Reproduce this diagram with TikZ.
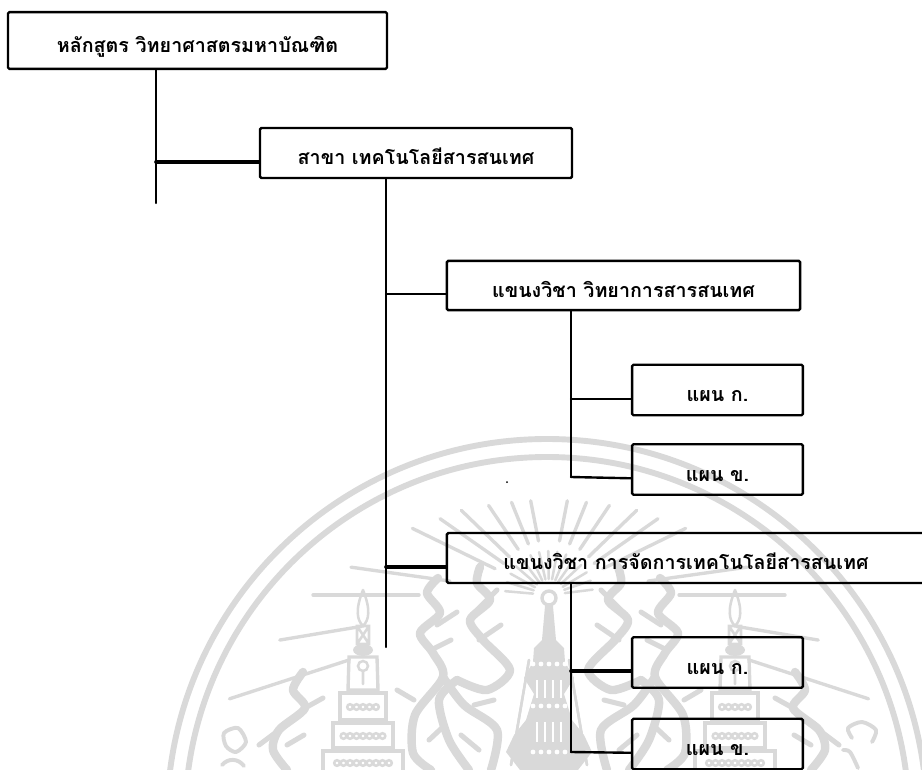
\documentclass[tikz,border=0pt]{standalone}
\usepackage{fontspec}
\newfontfamily\thaifont[Script=Thai]{Loma}
\usetikzlibrary{positioning}
\definecolor{sealgray}{gray}{0.85}
\tikzset{
  boxbase/.style={draw, line width=1.7pt, rounded corners=1pt, inner sep=0pt, font=\thaifont\bfseries\fontsize{14pt}{16pt}\selectfont, text height=20pt, text depth=3.2pt},
  degreebox/.style={boxbase, minimum width=9.47cm, minimum height=1.42cm},
  majorbox/.style={boxbase, minimum width=7.8cm, minimum height=1.25cm},
  trackbox/.style={boxbase, minimum width=8.83cm, minimum height=1.23cm},
  widebox/.style={boxbase, minimum width=11.95cm, minimum height=1.25cm},
  planbox/.style={boxbase, minimum width=4.27cm, minimum height=1.26cm},
  conn/.style={line width=1.7pt, line cap=round},
  thickconn/.style={line width=2.6pt},
  sealring/.style={draw=sealgray, line width=4.2pt},
  sealray/.style={draw=sealgray, line width=2.4pt, line cap=round},
  sealstroke/.style={draw=sealgray, line width=6pt, line cap=round, line join=round},
  sealleaf/.style={draw=sealgray, line width=3.6pt, line cap=round, line join=round},
  sealthin/.style={draw=sealgray, line width=1.8pt, line cap=round}
}
\begin{document}
\begin{tikzpicture}[x=0.025cm, y=-0.025cm]
    \useasboundingbox (0,0) rectangle (922,770);
    \begin{scope}
        \clip (0,0) rectangle (922,770);
        % Sello de fondo
        \draw[sealring] (547,819) circle (380);
        \draw[sealring] (547,819) circle (362);
        % Rayos
        \begin{scope}[shift={(549,595)}]
            \foreach \ang/\rin/\rout in {162/210/336, 170.5/190/273, 180/130/236, 188/100/200, 206/60/152, 215/55/133, 224/55/122, 236/55/108, 248/55/100, 259/55/96, 281/55/96, 292/55/100, 304/55/108, 316/55/122, 325/55/133, 334/60/152, 352/100/200, 0/130/236, 9.5/190/273, 18/210/336}
                \draw[sealray] (\ang:\rin) -- (\ang:\rout);
            \foreach \ang in {185,197,...,360}
                \draw[sealthin] (\ang:16) -- (\ang:44);
        \end{scope}
        % Pagoda central
        \draw[sealthin, line width=2.4pt] (549,598) circle (7);
        \fill[sealgray] (545,606) -- (553,606) -- (556,640) -- (564,648) -- (565,662) -- (574,678) -- (564,694) -- (572,720) -- (584,735) -- (592,752) -- (578,770) -- (520,770) -- (506,752) -- (514,735) -- (526,720) -- (534,694) -- (524,678) -- (533,662) -- (534,648) -- (542,640) -- cycle;
        \foreach \ty in {664,706,752}
            \foreach \tx in {-16,-8,...,16}
                \fill[white] (549+\tx,\ty) circle (2.4);
        \foreach \tx in {-12,-4,4,12}
            \draw[white, line width=1.2pt] (549+\tx,680) -- (549+\tx,698) (549+\tx,722) -- (549+\tx,742);
        % Torres laterales
        \foreach \cx in {363,735}{
            \begin{scope}[shift={(\cx,0)}]
                \draw[sealthin] (0,590) .. controls (8,610) and (6,620) .. (0,626) .. controls (-6,620) and (-8,610) .. (0,590);
                \draw[sealthin] (-6,626) rectangle (6,644) (-6,626) -- (6,644) (6,626) -- (-6,644);
                \fill[sealgray] (0,650) ellipse (10 and 6);
                \draw[sealthin, line width=2.4pt] (-14,657) -- (14,657) -- (15,690) -- (-15,690) -- cycle;
                \draw[sealthin] (0,666) circle (5) (0,672) -- (0,684);
                \draw[sealthin, line width=2.4pt] (-23,693) rectangle (23,720);
                \draw[sealthin, line width=2.4pt] (-30,723) rectangle (30,748);
                \draw[sealthin, line width=2.4pt] (-40,751) rectangle (40,775);
                \foreach \ty/\n in {707/2,736/3,763/4}
                    \foreach \tk in {-\n,...,\n}
                        \draw[sealthin] (\tk*6.5,\ty) circle (2.8);
            \end{scope}
        }
        % Llamas a los dos lados
        \foreach \side in {1,-1}{
            \begin{scope}[shift={(549,0)}, xscale=\side]
                \draw[sealstroke] plot[smooth] coordinates {(-111,578) (-122,593) (-109,613) (-129,633) (-116,653) (-106,677) (-134,715) (-136,753) (-118,770)};
                \draw[sealstroke] plot[smooth] coordinates {(-69,567) (-72,583) (-59,600) (-79,620) (-66,640) (-39,670) (-62,690) (-92,680)};
                \draw[sealstroke] plot[smooth] coordinates {(-106,677) (-85,705) (-52,730) (-58,770)};
                \draw[sealstroke] plot[smooth] coordinates {(-92,680) (-110,700) (-100,740) (-80,770)};
                \draw[sealstroke] plot[smooth] coordinates {(-246,672) (-256,690) (-244,708) (-270,730) (-276,750) (-262,770)};
                \draw[sealleaf] (-112,625) -- (-92,612) (-118,650) -- (-98,640) (-72,610) -- (-52,590) (-70,640) -- (-48,625);
                \draw[sealleaf] (-135,700) -- (-152,690) (-120,740) -- (-104,725) (-75,705) -- (-55,700) (-70,750) -- (-88,735);
                \draw[sealleaf] (-244,708) -- (-226,698) (-270,730) -- (-290,745) (-262,745) -- (-245,735);
                \draw[sealthin] (-20,660) -- (-38,765) (20,660) -- (38,765);
            \end{scope}
        }
        % Letras del borde
        \draw[sealleaf, line width=2.8pt] plot[smooth cycle] coordinates {(224,733) (238,728) (246,742) (236,752) (226,746)};
        \draw[sealleaf, line width=2.8pt] (222,765) .. controls (228,758) and (238,758) .. (244,766);
        \draw[sealleaf, line width=2.8pt] plot[smooth] coordinates {(852,738) (848,728) (862,722) (876,730) (872,742)};
        \draw[sealleaf, line width=2.8pt] plot[smooth] coordinates {(843,750) (850,752) (858,768)};
    \end{scope}
    % Cuadros
    \node[degreebox] (degree) at (197.5,40.5) {หลักสูตร วิทยาศาสตรมหาบัณฑิต};
    \node[majorbox] (major) at (416,153) {สาขา เทคโนโลยีสารสนเทศ};
    \node[trackbox] (trackinfo) at (623.5,285.5) {แขนงวิชา วิทยาการสารสนเทศ};
    \node[planbox] (planinfoa) at (717.5,390) {แผน ก.};
    \node[planbox] (planinfob) at (717.5,469.5) {แผน ข.};
    \node[widebox] (trackmgmt) at (686,558) {แขนงวิชา การจัดการเทคโนโลยีสารสนเทศ};
    \node[planbox] (planmgmta) at (717.5,662.5) {แผน ก.};
    \node[planbox] (planmgmtb) at (717.5,744) {แผน ข.};
    % Troncos
    \coordinate (degreeend) at (156,203);
    \coordinate (majorend) at (386,647);
    \coordinate (infoend) at (571,477);
    \coordinate (mgmtend) at (571,752);
    % Lineas
    \draw[conn] (degree.south -| degreeend) -- (degreeend);
    \draw[conn, thickconn] (major.mid west) -- (major.mid west -| degreeend);
    \draw[conn] (major.south -| majorend) -- (majorend);
    \draw[conn] (trackinfo.mid west) -- (trackinfo.mid west -| majorend);
    \draw[conn, thickconn] (trackmgmt.mid west) -- (trackmgmt.mid west -| majorend);
    \draw[conn] (trackinfo.south -| infoend) -- (infoend);
    \draw[conn] (planinfoa.mid west) -- (planinfoa.mid west -| infoend);
    \draw[conn] (planinfob.mid west) -- (infoend);
    \draw[conn] (trackmgmt.south -| mgmtend) -- (mgmtend);
    \draw[conn, thickconn] (planmgmta.mid west) -- (planmgmta.mid west -| mgmtend);
    \draw[conn] (planmgmtb.mid west) -- (mgmtend);
    \fill (507,482) circle (1);
\end{tikzpicture}
\end{document}
